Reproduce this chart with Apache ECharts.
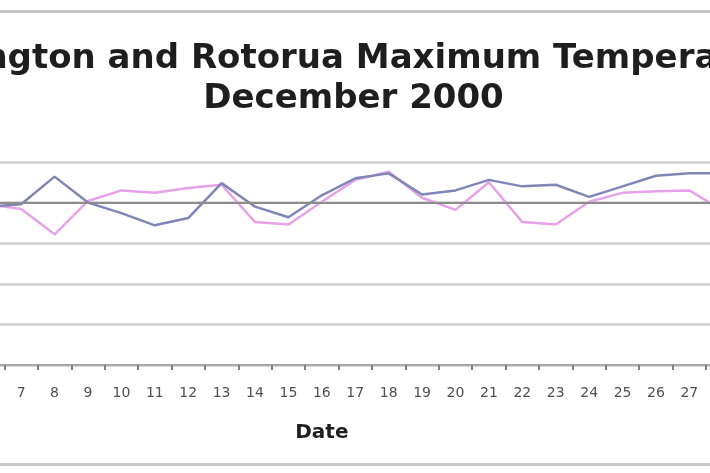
<!DOCTYPE html>
<html>
<head>
<meta charset="utf-8">
<script src="https://cdn.jsdelivr.net/npm/echarts@6/dist/echarts.min.js"></script>
<style>
  html, body { margin: 0; padding: 0; width: 710px; height: 473px; overflow: hidden; background: #ffffff; }
  #chart { position: absolute; left: -260px; top: 0; width: 1227px; height: 473px; }
</style>
</head>
<body>
<div id="chart"></div>
<script>
// Day of month (December 2000)
const days = ['1','2','3','4','5','6','7','8','9','10','11','12','13','14','15','16',
              '17','18','19','20','21','22','23','24','25','26','27','28','29','30','31'];
// Maximum temperatures (°C); days outside the visible crop are not readable -> null
const wellington = [null, null, null, null, null,
  19.5, 19.8, 23.2, 20.0, 18.7, 17.2, 18.1, 22.4, 19.5, 18.2, 20.9, 23.0, 23.6,
  21.0, 21.5, 22.8, 22.0, 22.2, 20.7, 22.0, 23.3, 23.6, 23.6,
  null, null, null];
const rotorua = [null, null, null, null, null,
  19.8, 19.2, 16.1, 20.2, 21.5, 21.2, 21.8, 22.2, 17.6, 17.3, 20.1, 22.8, 23.8,
  20.6, 19.1, 22.5, 17.6, 17.3, 20.1, 21.2, 21.4, 21.5, 19.0,
  null, null, null];
const referenceLevel = 20;
const yTicks = { min: 0, max: 25, interval: 5 };

const chart = echarts.init(document.getElementById('chart'), null, { renderer: 'canvas' });
chart.setOption({
  animation: false,
  backgroundColor: '#ffffff',
  title: {
    text: 'Wellington and Rotorua Maximum Temperatures\nDecember 2000',
    left: 'center',
    top: 34,
    textStyle: {
      fontFamily: 'DejaVu Sans',
      fontWeight: 'bold',
      fontSize: 34,
      lineHeight: 40,
      color: '#1e1e1e'
    }
  },
  legend: {
    orient: 'vertical',
    right: 10,
    top: 'middle',
    itemWidth: 30,
    icon: 'path://M0,0 L30,0 L30,3 L0,3 Z',
    textStyle: { fontFamily: 'DejaVu Sans', fontSize: 14, color: '#333' },
    data: ['Wellington', 'Rotorua']
  },
  grid: { left: 58.1, right: 127.3, top: 162, bottom: 108, containLabel: false },
  xAxis: {
    type: 'category',
    data: days,
    boundaryGap: true,
    name: 'Date',
    nameLocation: 'middle',
    nameGap: 58,
    nameTextStyle: { fontFamily: 'DejaVu Sans', fontWeight: 'bold', fontSize: 20, color: '#1e1e1e' },
    axisLine: { lineStyle: { color: '#a8a8a8', width: 2 } },
    axisTick: { show: true, length: 5, lineStyle: { color: '#808080', width: 2 } },
    axisLabel: { fontFamily: 'DejaVu Sans', fontSize: 14, color: '#505050', margin: 21, interval: 0 },
    splitLine: { show: false }
  },
  yAxis: {
    type: 'value',
    min: yTicks.min,
    max: yTicks.max,
    interval: yTicks.interval,
    name: 'Temperature (°C)',
    nameLocation: 'middle',
    nameGap: 40,
    nameTextStyle: { fontFamily: 'DejaVu Sans', fontWeight: 'bold', fontSize: 16, color: '#1e1e1e' },
    axisLine: { show: true, lineStyle: { color: '#a8a8a8', width: 2 } },
    axisTick: { show: true, length: 5, lineStyle: { color: '#808080' } },
    axisLabel: { fontFamily: 'DejaVu Sans', fontSize: 14, color: '#4a4a4a' },
    splitLine: { show: true, lineStyle: { color: '#cfcfcf', width: 2.5 } }
  },
  graphic: [{
    type: 'rect',
    silent: true,
    shape: { x: 1.5, y: 11.5, width: 1224, height: 453 },
    style: { fill: 'none', stroke: '#c6c6c6', lineWidth: 3 }
  }],
  series: [
    {
      name: 'Wellington',
      type: 'line',
      data: wellington,
      showSymbol: false,
      symbol: 'none',
      connectNulls: false,
      lineStyle: { color: '#8085b8', width: 2.5 },
      itemStyle: { color: '#8085b8' },
      markLine: {
        silent: true,
        symbol: 'none',
        label: { show: false },
        lineStyle: { color: '#8c8c8c', width: 2, type: 'solid' },
        data: [{ yAxis: referenceLevel }]
      },
      z: 3
    },
    {
      name: 'Rotorua',
      type: 'line',
      data: rotorua,
      showSymbol: false,
      symbol: 'none',
      connectNulls: false,
      lineStyle: { color: '#e6a2e8', width: 2.5 },
      itemStyle: { color: '#e6a2e8' },
      z: 2
    }
  ]
});
</script>
</body>
</html>
